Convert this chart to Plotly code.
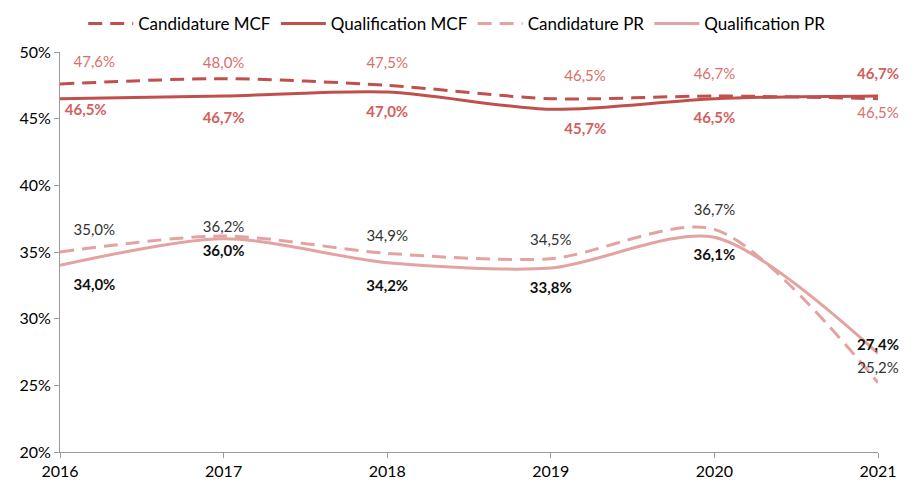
import plotly.graph_objects as go

# ---------------------------------------------------------------------------
# Données
# ---------------------------------------------------------------------------

ANNEES = [2016, 2017, 2018, 2019, 2020, 2021]

candidature_mcf = [47.6, 48.0, 47.5, 46.5, 46.7, 46.5]
qualification_mcf = [46.5, 46.7, 47.0, 45.7, 46.5, 46.7]
candidature_pr = [35.0, 36.2, 34.9, 34.5, 36.7, 25.2]
qualification_pr = [34.0, 36.0, 34.2, 33.8, 36.1, 27.4]

Y_TICKS = [20, 25, 30, 35, 40, 45, 50]
Y_LABELS = [f"{v}%" for v in Y_TICKS]

# ---------------------------------------------------------------------------
# Style
# ---------------------------------------------------------------------------

ROUGE = "#C0504D"
ROSE = "#E3A3A1"
FONT = "Lato"
DASH = "14px,8px"


def fmt(v):
    return f"{v:.1f}%".replace(".", ",")


SERIES = [
    dict(nom="Candidature MCF", y=candidature_mcf, couleur=ROUGE, dash=DASH,
         txt_color="#DA6F6A", bold=False,
         pos=["top right", "top center", "top center", "top right", "top center", "bottom center"],
         taille=[20, 10, 20, 20, 20, 12]),
    dict(nom="Qualification MCF", y=qualification_mcf, couleur=ROUGE, dash="solid",
         txt_color="#D2605B", bold=True,
         pos=["bottom right", "bottom center", "bottom center", "bottom right", "bottom center", "top center"],
         taille=[6, 24, 20, 20, 20, 20]),
    dict(nom="Candidature PR", y=candidature_pr, couleur=ROSE, dash=DASH,
         txt_color="#333333", bold=False,
         pos=["top right", "top center", "top center", "top center", "top center", "top center"],
         taille=[20, 0, 12, 14, 16, 8]),
    dict(nom="Qualification PR", y=qualification_pr, couleur=ROSE, dash="solid",
         txt_color="#111111", bold=True,
         pos=["bottom right", "bottom center", "bottom center", "bottom center", "bottom center", "top center"],
         taille=[20, 8, 26, 20, 16, 0]),
]

fig = go.Figure()
for s in SERIES:
    fig.add_trace(go.Scatter(
        x=ANNEES,
        y=s["y"],
        name=s["nom"],
        mode="lines",
        line=dict(color=s["couleur"], width=3, dash=s["dash"], shape="spline", smoothing=0.8),
        cliponaxis=False,
    ))

# étiquettes de données
for s in SERIES:
    labels = [(f"<b>{fmt(v)}</b>" if s["bold"] else fmt(v)) for v in s["y"]]
    fig.add_trace(go.Scatter(
        x=ANNEES,
        y=s["y"],
        mode="markers+text",
        marker=dict(size=s["taille"], opacity=0),
        text=labels,
        textposition=s["pos"],
        textfont=dict(color=s["txt_color"], size=15, family=FONT),
        cliponaxis=False,
        showlegend=False,
        hoverinfo="skip",
    ))

# la page a une marge de 8 px : on compense dans les marges du graphique
fig.update_layout(
    width=920,
    height=484,
    plot_bgcolor="white",
    paper_bgcolor="white",
    font=dict(family=FONT, size=15, color="black"),
    margin=dict(l=52, r=50, t=44, b=40, autoexpand=False),
    showlegend=True,
    legend=dict(
        orientation="h",
        x=0.485, xanchor="center",
        y=1.115, yanchor="top",
        font=dict(size=17, color="black"),
        itemwidth=45,
    ),
    xaxis=dict(
        range=[2016, 2021],
        tickvals=ANNEES,
        showgrid=False,
        zeroline=False,
        showline=True,
        linecolor="#9a9a9a",
        linewidth=1,
        ticks="outside",
        tickcolor="#9a9a9a",
        ticklen=5,
        tickfont=dict(size=16, color="black"),
    ),
    yaxis=dict(
        range=[20, 50],
        tickvals=Y_TICKS,
        ticktext=Y_LABELS,
        showgrid=False,
        zeroline=False,
        showline=True,
        linecolor="#9a9a9a",
        linewidth=1,
        ticks="outside",
        tickcolor="#9a9a9a",
        ticklen=5,
        tickfont=dict(size=16, color="black"),
    ),
)

fig.write_html("out.html")
